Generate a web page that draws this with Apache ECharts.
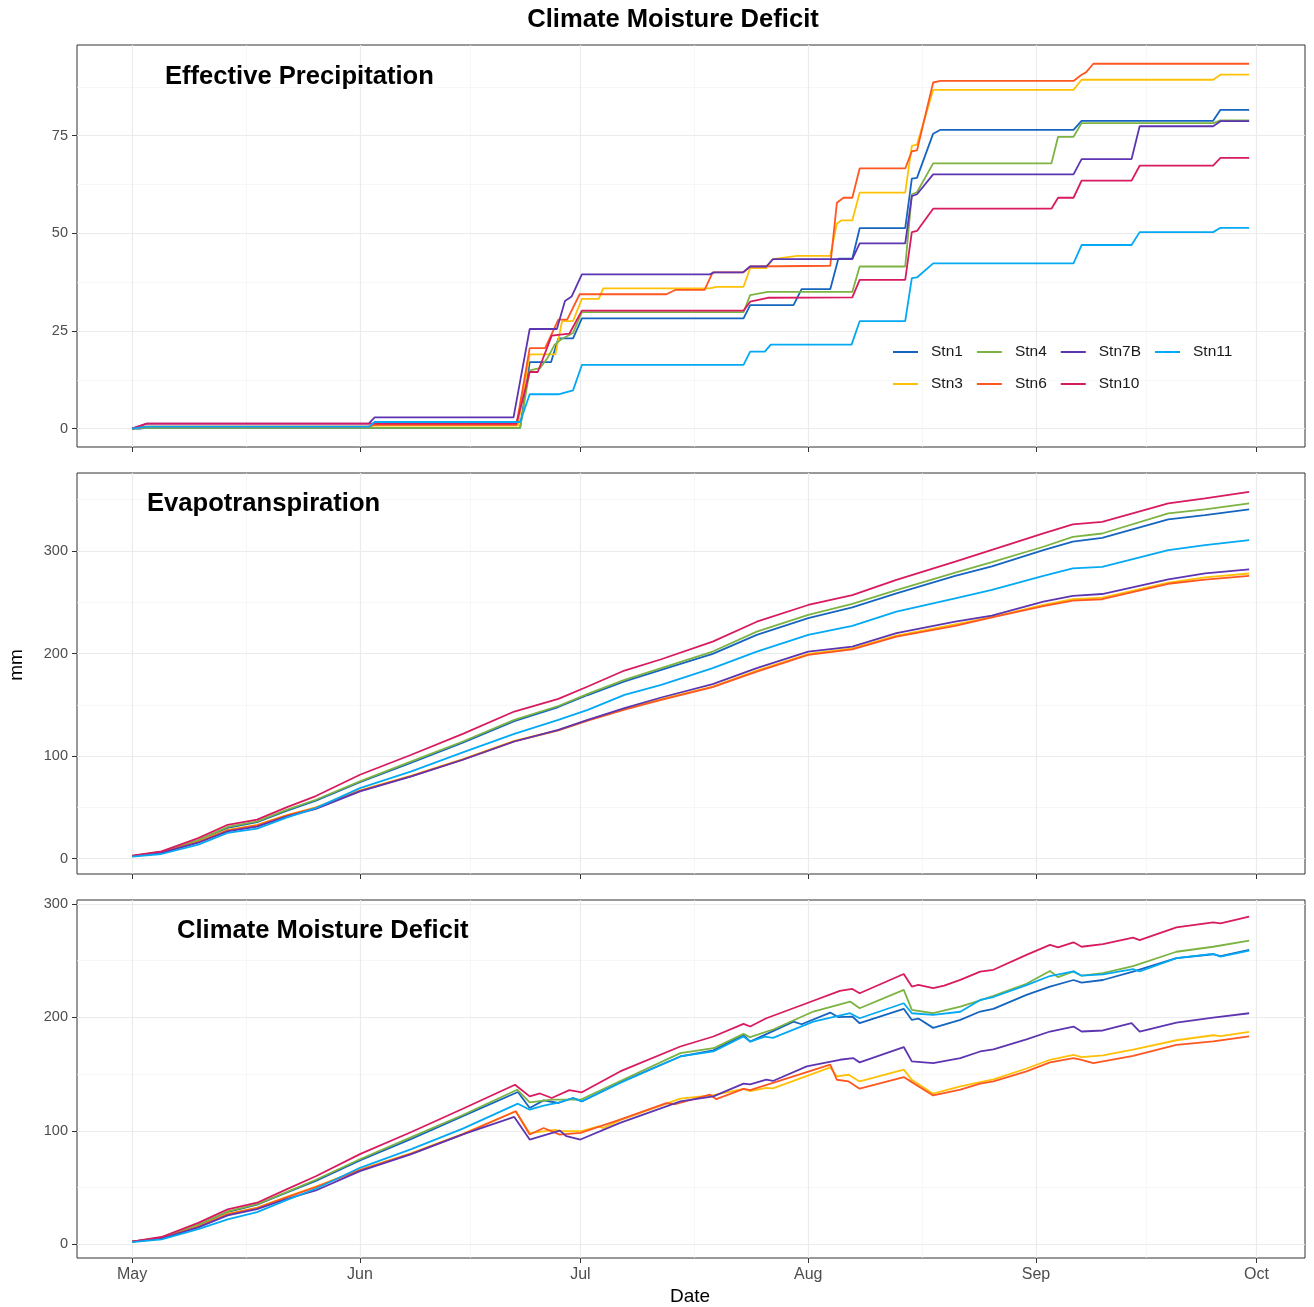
<!DOCTYPE html>
<html>
<head>
<meta charset="utf-8">
<script src="https://cdn.jsdelivr.net/npm/echarts@6/dist/echarts.min.js"></script>
<style>html,body{margin:0;padding:0;background:#fff}#c{width:1314px;height:1307px}</style>
</head>
<body>
<div id="c"></div>
<script>
// ---------------- data ----------------
const stations = ['Stn1', 'Stn3', 'Stn4', 'Stn6', 'Stn7B', 'Stn10', 'Stn11'];
const stationColors = ['#1565C0', '#FFC107', '#7CB342', '#FF5722', '#5E35B1', '#D81B60', '#03A9F4'];
const legendRow1 = ['Stn1', 'Stn4', 'Stn7B', 'Stn11'];
const legendRow2 = ['Stn3', 'Stn6', 'Stn10'];

// x: days since 1 May
const monthTicks = [0, 31, 61, 92, 123, 153];
const monthLabels = ['May', 'Jun', 'Jul', 'Aug', 'Sep', 'Oct'];
const monthMinor = [15.5, 46, 76.5, 107.5, 138];

const epTicks = [0, 25, 50, 75];
const epMinor = [12.5, 37.5, 62.5, 87.5];
const etTicks = [0, 100, 200, 300];
const etMinor = [50, 150, 250, 350];
const cmdTicks = [0, 100, 200, 300];
const cmdMinor = [50, 150, 250];

// Effective precipitation (cumulative, mm) [day, value]
const epStn1 = [[0,0],[1,0],[2,0.2],[52.8,0.2],[54.1,17.0],[57,17.0],[58,23.1],[60,23.1],[61.2,28.2],[83.2,28.2],[84.1,31.6],[90,31.6],[91.1,35.7],[95,35.7],[96.1,43.5],[98,43.5],[99,51.3],[105.2,51.3],[106.1,64.0],[106.8,64.2],[109,75.5],[110,76.5],[128.1,76.5],[129.2,78.8],[147.1,78.8],[148.1,81.6],[152,81.6]];
const epStn3 = [[0,0],[2,0.5],[32.2,0.5],[33,0.8],[52.5,0.8],[54.1,19.0],[57.6,19.0],[58.5,27.5],[60,27.5],[61.2,33.2],[63.5,33.2],[64.1,35.9],[78.6,35.9],[79.5,36.3],[83.2,36.3],[84.1,41.1],[86.3,41.1],[87.2,43.4],[90.5,44.2],[95,44.2],[95.9,52.5],[96.5,53.3],[98,53.3],[99,60.4],[105.2,60.4],[106.1,72.4],[106.8,72.7],[109,86.7],[128.1,86.7],[129.2,89.3],[147.1,89.3],[148.1,90.6],[152,90.6]];
const epStn4 = [[0,0],[2,0.2],[52.8,0.2],[54.1,14.9],[55.5,15.5],[56.5,18],[57.5,21.5],[58.5,23],[60,24.5],[61.2,29.8],[83.2,29.8],[84.1,34.2],[86.5,35.0],[98,35.0],[99,41.5],[105.2,41.5],[106.1,60.0],[106.8,60.5],[109,67.9],[125.1,67.9],[126,74.7],[128.1,74.7],[129.2,78.2],[147.1,78.2],[148.1,78.9],[152,78.9]];
const epStn6 = [[0,0],[2,0.5],[32.2,0.5],[33,1.0],[52.3,1.0],[54.1,20.6],[56.2,20.6],[58,27.9],[59.2,27.9],[60.9,34.4],[72.7,34.4],[73.9,35.5],[77.9,35.5],[79,40.0],[83.2,40.0],[84.1,41.5],[95,41.7],[95.9,57.8],[96.8,59.1],[98,59.1],[99,66.6],[105.2,66.6],[106.1,71.0],[106.8,71.2],[109,88.6],[110,89.0],[128.1,89.0],[129.2,90.6],[129.8,91.2],[130.8,93.4],[152,93.4]];
const epStn7B = [[0,0],[2,1.3],[32.2,1.3],[33,2.9],[51.9,2.9],[54.1,25.5],[57.8,25.5],[58.9,32.7],[59.8,33.8],[61.2,39.5],[78.6,39.5],[79.2,40.0],[83.1,40.0],[84.1,41.5],[86.3,41.5],[87.2,43.4],[98,43.4],[99,47.4],[105.2,47.4],[106.1,59.5],[106.8,60.0],[109,65.1],[128.1,65.1],[129.2,69.0],[136,69.0],[137.1,77.4],[147.1,77.4],[148.1,78.7],[152,78.7]];
const epStn10 = [[0,0],[2,1.3],[52.3,1.3],[54.1,14.5],[55.2,14.5],[57.1,23.8],[59.5,24.3],[61.2,30.2],[83.2,30.2],[84.1,32.5],[86.5,33.5],[98,33.6],[99,38.1],[105.2,38.1],[106.1,50.3],[106.8,50.6],[109,56.3],[125.1,56.3],[126,59.1],[128.1,59.1],[129.2,63.5],[136,63.5],[137.1,67.3],[147.1,67.3],[148.1,69.3],[152,69.3]];
const epStn11 = [[0,0],[2,0.5],[32.2,0.5],[33,1.7],[52.8,1.7],[54.1,8.8],[58,8.8],[60,9.8],[61.2,16.3],[83.2,16.3],[84.1,19.7],[86.1,19.7],[86.9,21.5],[97.9,21.5],[99,27.5],[105.2,27.5],[106.1,38.5],[106.8,38.7],[109,42.3],[128.1,42.3],[129.2,47.0],[136,47.0],[137.1,50.3],[147.1,50.3],[148.1,51.4],[152,51.4]];

// Evapotranspiration (cumulative, mm), sampled on etDays
const etDays  = [0, 4, 9, 13, 17, 21, 25, 31, 38, 45, 52, 58, 62, 67, 72, 79, 85, 92, 98, 104, 112, 117, 124, 128, 132, 141, 146, 152];
const etStn1  = [2.5,6.5,17.5,30,35.5,46.5,56.5,74.5,93.5,113,134,147.8,159.5,172.8,184.1,199.7,218.1,234.4,245,258.7,275.6,285,300.9,309,312.7,330.8,335,340.5];
const etStn3  = [2.5,6,16.5,28,33,42.5,50,66.5,81,97,114.8,125.3,135,145.8,155.5,167.8,183.4,199.5,205,217.5,228.5,235.5,247.5,252.9,254.4,269,274.3,278];
const etStn4  = [2.5,6.5,18,31,36.3,47.5,57.4,75.3,94.8,114.2,135.3,148.8,160.7,174.3,185.7,201.9,221.3,237.6,248.3,261.9,278.8,289,304.1,313.8,317,336.6,340.5,346.3];
const etStn6  = [2.5,6,16,27.5,32.5,42,49.5,66,80.5,96.5,114.4,125,134.5,145.2,154.8,167.2,182.4,198.6,204.1,216.5,226.9,235.2,246.3,251.6,252.9,268,272,275.6];
const etStn7B = [2.5,5.5,15.5,26.5,31.1,41,48.5,65.5,80.1,96.4,114.2,125.6,135.3,146.7,157.1,170.1,185.7,201.9,206.7,219.8,231,237,250.5,256.1,258,272.3,278.2,282];
const etStn10 = [3,7,20,33,38,50,61,81.8,101.3,121.7,143.4,155.8,167.8,183.4,194.4,211.6,231,247.3,257,271.7,289.5,301,317.1,325.9,328.4,346.3,351.2,357.7];
const etStn11 = [2,4.5,13.6,25,29.3,40,49.3,68.8,85,103.5,121.7,135.3,145.1,159.7,169.4,185.7,201.9,218.1,226.9,240.8,253.8,262,275.6,283,284.5,300.9,305.7,310.6];

// Climate moisture deficit (mm) [day, value]
const cmdStn1 = [[0,2.5],[4,6],[9,17],[13,28.5],[17,35],[21,45.5],[25,56],[31,74],[38,93],[45,113],[52.5,134.3],[54.1,120.2],[56,126.9],[58,124.6],[60,129],[61.2,126],[66.8,144],[74.6,165.6],[79.1,171],[83.2,184.6],[84.1,178.7],[90,196.3],[91.1,194],[95,204.3],[96.1,200.2],[98,200.8],[99,194.9],[105,207.6],[106.1,197.8],[107,199],[109,190.8],[112.7,197.9],[115.4,205.2],[117.2,207.5],[121.7,219.9],[124.9,227.2],[128.1,233],[129.2,230.7],[132.1,233],[136.2,240.4],[142.1,252.2],[147.1,255.7],[148.1,254],[152,259.5]];
const cmdStn3 = [[0,2.5],[4,5.5],[9,16],[13,27],[17,32.5],[21,42],[25,51],[31,66],[38,80.5],[45,97.5],[52.2,117.3],[54.1,98],[57.5,101],[58.5,99.7],[61,99.7],[63.5,104],[64.1,102.5],[66.4,109.5],[74.6,128.5],[79.1,131.5],[83.2,137],[84.1,135],[86.3,138],[87.2,137.5],[95,156],[95.9,148],[97.5,149.5],[99,143.6],[105,154],[106.1,145],[109,132.8],[112.7,139.2],[115.4,143.1],[117.2,145.5],[121.7,155],[124.9,162.7],[128.1,167.1],[129.2,165],[132.1,166.5],[136.2,171.7],[142.1,179.9],[147.1,184.3],[148.1,183.5],[152,187.2]];
const cmdStn4 = [[0,2.5],[4,6],[9,17.5],[13,29],[17,35.5],[21,46],[25,57],[31,75],[38,94.5],[45,114],[52.4,136.3],[54.1,125.2],[57.1,127.5],[61,127.5],[66.8,145.1],[74.6,168.5],[79.1,172.9],[83.2,185.5],[84.1,182.6],[87.3,189.6],[92.7,205.2],[97.7,214],[99,208.1],[105,224.3],[106.1,206.7],[109,203.7],[112.7,209.6],[115.4,215],[117.2,219],[121.7,229.7],[124.9,240.9],[126,235.5],[128.1,240.6],[129.2,236.8],[132.1,239],[136.2,245.3],[142.1,257.9],[147.1,262.3],[152,267.6]];
const cmdStn6 = [[0,2.5],[4,5.5],[9,15.5],[13,26.5],[17,32],[21,41.5],[25,50.5],[31,65.5],[38,80],[45,97],[52.2,117.3],[54.1,96.8],[56,102.6],[58.2,96.8],[61,98.2],[66.4,110],[72.7,124.5],[73.9,123.5],[78.6,132],[79.5,128],[83.2,137],[84.1,136],[95,158.4],[95.9,145.1],[97.5,143.6],[99,137.2],[105,147.5],[106.1,143],[109,131.3],[112.7,136.3],[115.4,141.7],[117.2,143.6],[121.7,152.4],[124.9,160.4],[128.1,164.2],[129.2,162.5],[130.8,159.8],[136.2,166.2],[142.1,175.9],[147.1,178.9],[152,183.3]];
const cmdStn7B = [[0,2.5],[4,5],[9,15],[13,25.5],[17,31],[21,40],[25,47.5],[31,64.5],[38,79.5],[45,97],[52,112.3],[54.1,92.4],[58.2,100.3],[59.1,95.3],[61,92.4],[66.4,107.1],[74.6,126.1],[79.1,130.5],[83.2,141.7],[84.1,141],[86.3,145.1],[87.2,144],[91.8,156.9],[96.3,162.7],[98.1,164.2],[99,160.4],[105,173.9],[106.1,161.3],[109,159.8],[112.7,164.2],[115.4,170],[117.2,171.8],[121.7,180.6],[124.9,187.6],[128.1,192],[129.2,187.6],[132.1,188.5],[136,195],[137.1,187.6],[142.1,195.5],[147.1,199.9],[152,203.7]];
const cmdStn10 = [[0,2.5],[4,6.5],[9,19],[13,30.8],[17,36.7],[21,48.5],[25,60],[31,79.5],[38,99],[45,119.5],[52.1,140.7],[54.1,130.4],[55.5,133],[57.1,129],[59.5,136],[61.2,134],[66.4,152.4],[74.6,174.4],[79.1,183.2],[83.2,194.4],[84.1,192],[86.3,199.3],[91.8,212.5],[96.3,223.4],[98,225.1],[99,221.3],[105,238.3],[106.1,227.2],[107,228.7],[109,225.8],[110.5,228],[112.7,233.1],[115.4,240.4],[117.2,242],[121.7,255.1],[124.9,263.9],[126,261.8],[128.1,266.2],[129.2,262.3],[132.1,264.7],[136.2,270.3],[137.1,268.2],[142.1,279.3],[147.1,283.8],[148.1,282.9],[152,288.8]];
const cmdStn11 = [[0,2],[4,4.5],[9,13.5],[13,22],[17,28.5],[21,39],[25,49],[31,67.5],[38,84],[45,102],[52.5,124],[54.1,118.7],[56,122.2],[58,125],[60,129],[61.2,126.1],[66.4,142.2],[74.6,165.6],[79.1,170],[83.2,183.2],[84.1,178.7],[86.1,183],[87.2,182],[92.7,196.3],[97.7,203.7],[99,199.3],[105,212.5],[106.1,203.7],[109,202.2],[112.7,205],[115.4,215.4],[117.2,218],[121.7,228.5],[124.9,236.5],[128.1,240.6],[129.2,236.8],[132.1,238],[136.2,242.5],[137.1,240.5],[142.1,252.2],[147.1,256],[148.1,253.6],[152,258.8]];

// ---------------- chart ----------------
const EP  = [epStn1, epStn3, epStn4, epStn6, epStn7B, epStn10, epStn11];
const ET  = [etStn1, etStn3, etStn4, etStn6, etStn7B, etStn10, etStn11];
const CMD = [cmdStn1, cmdStn3, cmdStn4, cmdStn6, cmdStn7B, cmdStn10, cmdStn11];

const FONT = '"Liberation Sans", Arial, Helvetica, sans-serif';
const xRange = {min: -7.5, max: 159.6};
const yRanges = [{min: -4.7, max: 98.2}, {min: -15, max: 376}, {min: -12, max: 303.5}];
const yTickSets = [epTicks, etTicks, cmdTicks];
const yMinorSets = [epMinor, etMinor, cmdMinor];
const grids = [
  {left: 77, right: 9, top: 45, height: 402},
  {left: 77, right: 9, top: 473, height: 401},
  {left: 77, right: 9, top: 900, height: 358}
];

const xAxes = grids.map((g, i) => ({
  type: 'value', gridIndex: i, min: xRange.min, max: xRange.max, position: 'bottom',
  axisLine: {show: false, onZero: false}, splitLine: {show: false},
  axisTick: {show: true, inside: false, customValues: monthTicks, length: 5, lineStyle: {color: '#333333', width: 1}},
  axisLabel: {show: i === 2, customValues: monthTicks, margin: 9, fontSize: 16, color: '#4d4d4d', fontFamily: FONT,
    formatter: v => monthLabels[monthTicks.indexOf(v)] || ''}
}));
const yAxes = grids.map((g, i) => ({
  type: 'value', gridIndex: i, min: yRanges[i].min, max: yRanges[i].max, position: 'left',
  axisLine: {show: false, onZero: false}, splitLine: {show: false},
  axisTick: {show: true, inside: false, customValues: yTickSets[i], length: 5, lineStyle: {color: '#333333', width: 1}},
  axisLabel: {customValues: yTickSets[i], margin: 9, fontSize: 14.5, color: '#4d4d4d', fontFamily: FONT}
}));

function gridLineSeries(i) {
  const d = [];
  yMinorSets[i].forEach(v => d.push({yAxis: v, lineStyle: {color: '#f4f4f4', width: 0.7, type: 'solid'}}));
  monthMinor.forEach(v => d.push({xAxis: v, lineStyle: {color: '#f4f4f4', width: 0.7, type: 'solid'}}));
  yTickSets[i].forEach(v => d.push({yAxis: v, lineStyle: {color: '#ebebeb', width: 1.2, type: 'solid'}}));
  monthTicks.forEach(v => d.push({xAxis: v, lineStyle: {color: '#ebebeb', width: 1.2, type: 'solid'}}));
  return {
    type: 'line', xAxisIndex: i, yAxisIndex: i, data: [], z: 0, silent: true,
    markLine: {silent: true, z: 0, symbol: ['none', 'none'], label: {show: false}, animation: false,
      lineStyle: {type: 'solid'}, emphasis: {disabled: true}, data: d}
  };
}

const series = [];
[0, 1, 2].forEach(i => series.push(gridLineSeries(i)));
stations.forEach((s, k) => {
  const common = {type: 'line', name: s, showSymbol: false, symbol: 'none', smooth: false, z: 3,
    color: stationColors[k], lineStyle: {width: 1.8, color: stationColors[k]}, emphasis: {disabled: true}};
  series.push(Object.assign({}, common, {xAxisIndex: 0, yAxisIndex: 0, data: EP[k]}));
  series.push(Object.assign({}, common, {xAxisIndex: 1, yAxisIndex: 1, data: etDays.map((d, j) => [d, ET[k][j]])}));
  series.push(Object.assign({}, common, {xAxisIndex: 2, yAxisIndex: 2, data: CMD[k]}));
});

const legendCommon = {
  orient: 'horizontal', icon: 'rect', itemWidth: 25, itemHeight: 2, itemGap: 14, selectedMode: false,
  padding: 0, z: 10, backgroundColor: 'transparent',
  textStyle: {fontSize: 15.5, color: '#1a1a1a', fontFamily: FONT, padding: [0, 0, 0, 8]}
};

const textItem = (txt, x, y, opts) => ({
  type: 'text', x: x, y: y, z: 100, silent: true,
  style: Object.assign({text: txt, fill: '#000', fontFamily: FONT, fontSize: 25.6, fontWeight: 'bold',
    align: 'left', verticalAlign: 'middle'}, opts || {})
});

const option = {
  animation: false,
  backgroundColor: '#ffffff',
  grid: grids.map(g => Object.assign({show: true, borderColor: '#333333', borderWidth: 1, backgroundColor: 'transparent', containLabel: false}, g)),
  xAxis: xAxes,
  yAxis: yAxes,
  legend: [
    Object.assign({data: legendRow1, left: 893, top: 344}, legendCommon),
    Object.assign({data: legendRow2, left: 893, top: 376}, legendCommon)
  ],
  graphic: [
    textItem('Climate Moisture Deficit', 673, 20, {align: 'center'}),
    textItem('Effective Precipitation', 165, 77),
    textItem('Evapotranspiration', 147, 504),
    textItem('Climate Moisture Deficit', 177, 931),
    textItem('mm', 17, 665, {align: 'center', fontSize: 19, fontWeight: 'normal'}),
    textItem('Date', 690, 1297, {align: 'center', fontSize: 19, fontWeight: 'normal'})
  ],
  series: series
};
option.graphic[4].rotation = Math.PI / 2;

const chart = echarts.init(document.getElementById('c'), null, {renderer: 'canvas'});
chart.setOption(option);
</script>
</body>
</html>
